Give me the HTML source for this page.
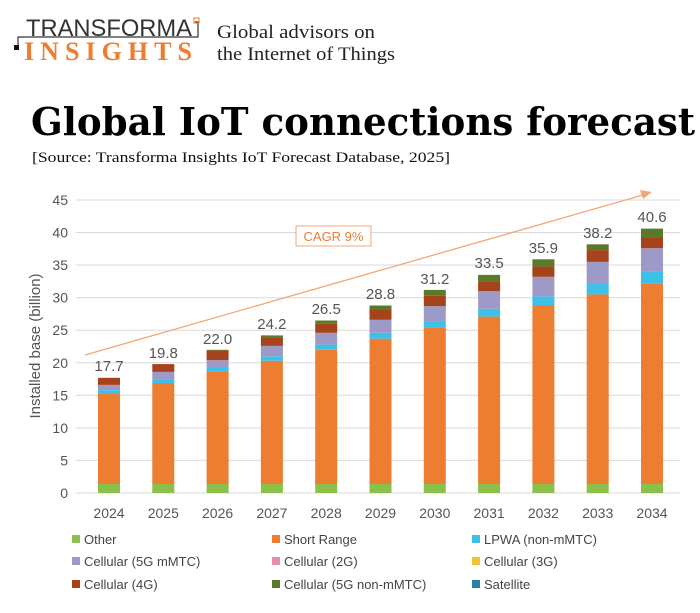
<!DOCTYPE html>
<html><head><meta charset="utf-8"><style>
body{margin:0;background:#fff;width:700px;height:613px;overflow:hidden;position:relative;font-family:"Liberation Sans",sans-serif}
</style></head><body>
<svg style="position:absolute;left:0;top:0" width="700" height="170">
<text x="26" y="36" font-family="Liberation Sans, sans-serif" font-size="24" fill="#333" textLength="166" lengthAdjust="spacingAndGlyphs">TRANSFORMA</text>
<text x="24" y="60" font-family="Liberation Serif, serif" font-weight="bold" font-size="26" fill="#ED7D31" textLength="168" lengthAdjust="spacing">INSIGHTS</text>
<polyline points="195,22 198,22 198,37 18,37 18,48" fill="none" stroke="#333" stroke-width="1.2"/>
<rect x="194" y="18" width="5" height="5" fill="none" stroke="#ED7D31"/><rect x="14" y="45" width="5" height="5" fill="#111"/>
<text x="217" y="38" font-family="Liberation Serif, serif" font-size="19" fill="#222" textLength="158" lengthAdjust="spacingAndGlyphs">Global advisors on</text>
<text x="217" y="60" font-family="Liberation Serif, serif" font-size="19" fill="#222" textLength="178" lengthAdjust="spacingAndGlyphs">the Internet of Things</text>
<text x="31" y="135" font-family="DejaVu Serif, serif" font-weight="bold" font-size="38" fill="#000" textLength="664" lengthAdjust="spacingAndGlyphs">Global IoT connections forecast</text>
<text x="32" y="162" font-family="Liberation Serif, serif" font-size="15" fill="#111" textLength="418" lengthAdjust="spacingAndGlyphs">[Source: Transforma Insights IoT Forecast Database, 2025]</text>
</svg>
<svg style="position:absolute;left:0;top:0" width="700" height="613" font-family="Liberation Sans, sans-serif">
<g stroke="#d9d9d9" stroke-width="1">
<line x1="76" x2="680" y1="200" y2="200"/><line x1="76" x2="680" y1="232.5" y2="232.5"/><line x1="76" x2="680" y1="265" y2="265"/><line x1="76" x2="680" y1="297.7" y2="297.7"/><line x1="76" x2="680" y1="330.2" y2="330.2"/><line x1="76" x2="680" y1="362.8" y2="362.8"/><line x1="76" x2="680" y1="395.3" y2="395.3"/><line x1="76" x2="680" y1="427.9" y2="427.9"/><line x1="76" x2="680" y1="460.4" y2="460.4"/><line x1="76" x2="680" y1="493" y2="493"/>
</g>
<g font-size="14" fill="#555" text-anchor="end">
<text x="68" y="205">45</text><text x="68" y="237.5">40</text><text x="68" y="270">35</text><text x="68" y="302.7">30</text><text x="68" y="335.2">25</text><text x="68" y="367.8">20</text><text x="68" y="400.3">15</text><text x="68" y="432.9">10</text><text x="68" y="465.4">5</text><text x="68" y="498">0</text>
</g>
<text transform="translate(40,346) rotate(-90)" text-anchor="middle" font-size="15" fill="#555">Installed base (billion)</text>
<line x1="85" y1="355" x2="643" y2="195" stroke="#F0A878" stroke-width="1.3"/>
<polygon points="652,192 640,190 643,199" fill="#F0A878"/>
<rect x="296" y="226" width="75" height="20" fill="#fff" stroke="#F0A878"/>
<text x="333.5" y="241" text-anchor="middle" font-size="13" fill="#ED7D31">CAGR 9%</text>
<g id="bars"></g>
<g font-size="14" fill="#555" text-anchor="middle">
<text x="109" y="518">2024</text><text x="163.3" y="518">2025</text><text x="217.6" y="518">2026</text><text x="271.9" y="518">2027</text><text x="326.2" y="518">2028</text><text x="380.5" y="518">2029</text><text x="434.8" y="518">2030</text><text x="489.1" y="518">2031</text><text x="543.4" y="518">2032</text><text x="597.7" y="518">2033</text><text x="652" y="518">2034</text>
</g>
<g font-size="15" fill="#555" text-anchor="middle">
<text x="109" y="371">17.7</text><text x="163.3" y="358">19.8</text><text x="217.6" y="344">22.0</text><text x="271.9" y="329">24.2</text><text x="326.2" y="314">26.5</text><text x="380.5" y="299">28.8</text><text x="434.8" y="284">31.2</text><text x="489.1" y="268">33.5</text><text x="543.4" y="253">35.9</text><text x="597.7" y="238">38.2</text><text x="652" y="222">40.6</text>
</g>
<g font-size="13" fill="#444">
<rect x="72" y="535" width="8" height="8" fill="#8DBF4B"/><text x="84" y="544">Other</text>
<rect x="272" y="535" width="8" height="8" fill="#ED7D31"/><text x="284" y="544">Short Range</text>
<rect x="472" y="535" width="8" height="8" fill="#3FC0E8"/><text x="484" y="544">LPWA (non-mMTC)</text>
<rect x="72" y="557" width="8" height="8" fill="#9E9AC8"/><text x="84" y="566">Cellular (5G mMTC)</text>
<rect x="272" y="557" width="8" height="8" fill="#E98BB0"/><text x="284" y="566">Cellular (2G)</text>
<rect x="472" y="557" width="8" height="8" fill="#F2C231"/><text x="484" y="566">Cellular (3G)</text>
<rect x="72" y="580" width="8" height="8" fill="#A5431C"/><text x="84" y="589">Cellular (4G)</text>
<rect x="272" y="580" width="8" height="8" fill="#5A7A2A"/><text x="284" y="589">Cellular (5G non-mMTC)</text>
<rect x="472" y="580" width="8" height="8" fill="#2B7DA8"/><text x="484" y="589">Satellite</text>
</g>
</svg>
<script>
var d=[[98,393.4,390.1,384.9,377.8,377.8],[152.3,383,379.1,371.9,364.1,364.1],[206.6,371.9,368,360.2,350.4,349.8],[260.9,360.8,356.3,345.9,337.4,335.4],[315.2,349.8,344.6,332.8,323.7,320.5],[369.5,338.7,332.8,319.8,310,305.5],[423.8,327.6,321.1,306.1,295.7,289.9],[478.1,316.6,308.7,291.2,281.4,274.9],[532.4,305.5,296.4,276.8,266.4,259.3],[586.7,294.4,284,261.9,250.1,244.3],[641,283.3,271.6,248.2,237.1,228.6]];
var c=["#8DBF4B","#ED7D31","#3FC0E8","#9E9AC8","#A5431C","#5A7A2A"];
var g=document.getElementById('bars'),s='';
d.forEach(function(r){var b=[493,484,r[1],r[2],r[3],r[4],r[5]];for(var i=0;i<6;i++){var h=b[i]-b[i+1];if(h>0)s+='<rect x="'+r[0]+'" y="'+b[i+1]+'" width="22" height="'+h+'" fill="'+c[i]+'"/>';}});
g.innerHTML=s;
</script>
</body></html>
